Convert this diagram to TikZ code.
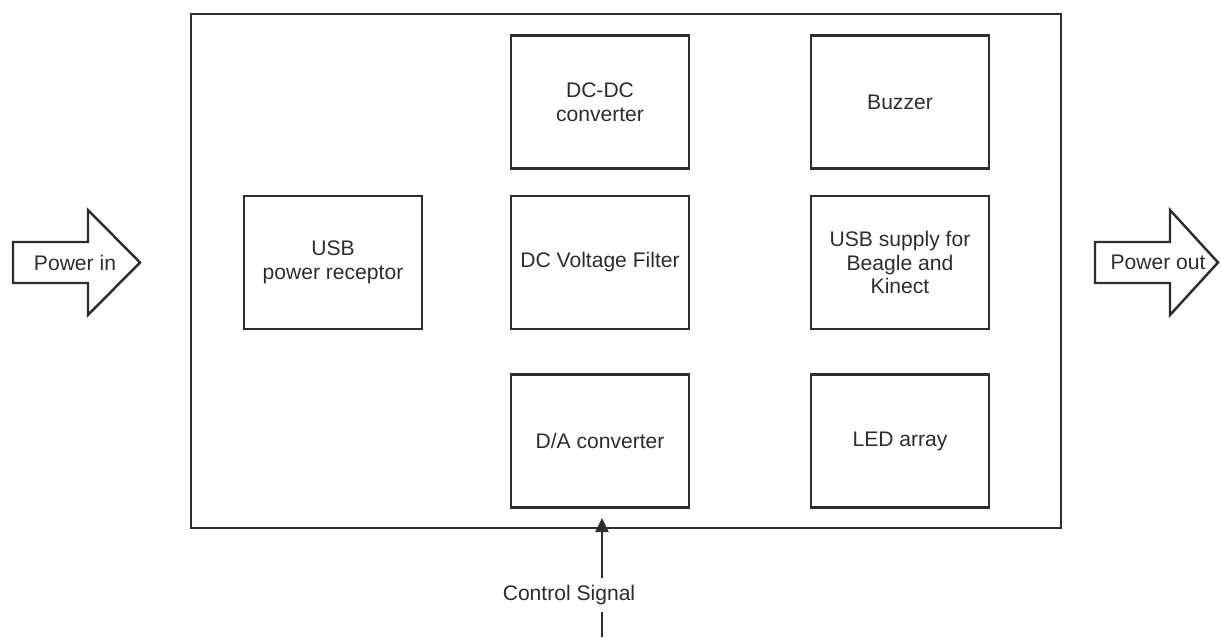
\documentclass[tikz,border=0pt]{standalone}
\usepackage{fontspec}
\setmainfont{Liberation Sans}
\usetikzlibrary{positioning, calc, arrows.meta}
\definecolor{ink}{RGB}{45, 45, 45}

\tikzset{
  blk/.style={draw=ink, line width=1.4pt, minimum width=3.56cm, minimum height=2.66cm,
    align=center, text=ink, font=\fontsize{12}{13.6}\selectfont},
  lbl/.style={text=ink, font=\fontsize{12}{13.6}\selectfont, inner sep=1pt},
  fat/.style={draw=ink, line width=1.4pt, line join=miter}
}

\begin{document}
\begin{tikzpicture}[x=0.02cm, y=-0.02cm]
        \useasboundingbox (0,0) rectangle (1221,637);

        % board outline
        \node[draw=ink, line width=1.5pt, minimum width=17.4cm, minimum height=10.28cm] (board) at (626,271) {};

        % blocks on the board
        \node[blk] (dcdc)   at (600,102)   {DC-DC\\converter};
        \node[blk] (buzzer) at (900,102)   {Buzzer};
        \node[blk] (usbin)  at (333,262.5) {USB\\power receptor};
        \node[blk] (filter) at (600,262.5) {DC Voltage Filter};
        \node[blk] (usbout) at (900,262.5) {USB supply for\\Beagle and\\Kinect};
        \node[blk] (dac)    at (600,441)   {D/A converter};
        \node[blk] (leds)   at (900,441)   {LED array};

        % power in
        \draw[fat] (13,242) -- (88,242) -- (88,210) -- (140,262.5) -- (88,315) -- (88,283) -- (13,283) -- cycle;
        \node[lbl] (pin) at (75,262.5) {Power in};

        % power out
        \draw[fat] (1095,242) -- (1170,242) -- (1170,210) -- (1218,262.5) -- (1170,315) -- (1170,283) -- (1095,283) -- cycle;
        \node[lbl] (pout) at (1158,262.5) {Power out};

        % control signal
        \coordinate (ctl) at (602,637);
        \coordinate (ctltip) at (602,518);
        \draw[ink, line width=1.1pt, -{Triangle[length=0.28cm, width=0.26cm]}] (ctl) -- (ctltip);
        \node[lbl, fill=white, inner sep=4pt] (ctllbl) at (569,595) {Control Signal};
\end{tikzpicture}
\end{document}
